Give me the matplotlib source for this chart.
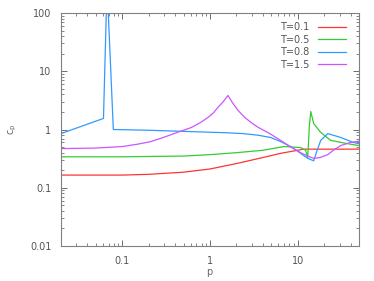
import matplotlib
matplotlib.use("Agg")
import matplotlib.pyplot as plt
from matplotlib.ticker import LogLocator, FixedLocator, FixedFormatter, NullFormatter

# T=0.1
p_01 = [0.02, 0.1, 0.2, 0.5, 1, 2, 4, 6.4, 10, 11.5, 13, 20, 50]
cp_01 = [0.165, 0.165, 0.17, 0.185, 0.21, 0.26, 0.33, 0.39, 0.44, 0.46, 0.46, 0.46, 0.46]

# T=0.5
p_05 = [0.02, 0.1, 0.5, 1, 2, 4, 7, 10.8, 12.3, 13.0, 13.6, 14.1, 15.2, 18.3, 23.8, 37.3, 50]
cp_05 = [0.34, 0.34, 0.35, 0.37, 0.40, 0.44, 0.51, 0.49, 0.44, 0.33, 1.2, 2.04, 1.27, 0.89, 0.65, 0.57, 0.53]

# T=0.8
p_08 = [0.02, 0.061, 0.0657, 0.0692, 0.079, 0.2, 0.61, 1.5, 2.4, 3.5, 4.9, 6.4, 8.5, 10.8, 13, 15.2, 16.5, 18.3, 22, 31, 43, 50]
cp_08 = [0.85, 1.55, 100, 100, 1.0, 0.97, 0.92, 0.88, 0.85, 0.8, 0.73, 0.62, 0.5, 0.39, 0.32, 0.29, 0.42, 0.65, 0.85, 0.73, 0.6, 0.57]

# T=1.5
p_15 = [0.02, 0.05, 0.1, 0.15, 0.211, 0.27, 0.34, 0.45, 0.61, 0.78, 0.95, 1.1, 1.23, 1.4, 1.6,
        1.8, 2.09, 2.5, 2.94, 3.5, 4.14, 5.0, 5.9, 6.4, 8.0, 10.8, 13, 15.2, 18, 22, 26, 31, 40, 50]
cp_15 = [0.47, 0.48, 0.51, 0.56, 0.62, 0.70, 0.79, 0.92, 1.08, 1.32, 1.61, 1.95, 2.39, 2.95, 3.84,
         2.9, 2.12, 1.6, 1.32, 1.1, 0.96, 0.82, 0.70, 0.65, 0.52, 0.40, 0.35, 0.32, 0.33, 0.37, 0.45, 0.53, 0.6, 0.63]

labels = ["T=0.1", "T=0.5", "T=0.8", "T=1.5"]
colors = ["#ff3333", "#33cc33", "#3399ff", "#cc55ff"]

xticks = [0.1, 1, 10]
xticklabels = ["0.1", "1", "10"]
yticks = [0.01, 0.1, 1, 10, 100]
yticklabels = ["0.01", "0.1", "1", "10", "100"]

fig = plt.figure(figsize=(3.74, 2.81), dpi=100)
ax = fig.add_axes([61/374, 1-246/281, (359-61)/374, (246-13)/281])

series = [(p_01, cp_01), (p_05, cp_05), (p_08, cp_08), (p_15, cp_15)]
for (px, py), lab, c in zip(series, labels, colors):
    ax.plot(px, py, color=c, lw=0.9, label=lab)

ax.set_xscale("log")
ax.set_yscale("log")
ax.set_xlim(0.02, 50)
ax.set_ylim(0.01, 100)

ax.xaxis.set_major_locator(FixedLocator(xticks))
ax.xaxis.set_major_formatter(FixedFormatter(xticklabels))
ax.xaxis.set_minor_locator(LogLocator(base=10, subs=range(2, 10), numticks=20))
ax.xaxis.set_minor_formatter(NullFormatter())
ax.yaxis.set_major_locator(FixedLocator(yticks))
ax.yaxis.set_major_formatter(FixedFormatter(yticklabels))
ax.yaxis.set_minor_locator(LogLocator(base=10, subs=range(2, 10), numticks=20))
ax.yaxis.set_minor_formatter(NullFormatter())

gray = "#666666"
for s in ax.spines.values():
    s.set_color("#808080")
    s.set_linewidth(0.8)
ax.tick_params(which="both", direction="in", top=True, right=True, colors="#555555",
               labelcolor="#555555", labelsize=7)
ax.tick_params(which="major", length=4, width=0.6)
ax.tick_params(which="minor", length=2, width=0.5)
ax.tick_params(axis="x", pad=7)
ax.tick_params(axis="y", pad=7)

fig.text(209/374, 1-272/281, "p", color=gray, fontsize=7, ha="center", va="center")
fig.text(13/374, 1-129/281, "c$_\\mathregular{p}$", color=gray, fontsize=7,
         ha="center", va="center", rotation=90)

leg = ax.legend(loc="upper right", frameon=False, fontsize=7, markerfirst=False,
                handlelength=2.8, handletextpad=0.9, labelspacing=0.25,
                borderaxespad=0.2, bbox_to_anchor=(0.975, 0.985))
for t in leg.get_texts():
    t.set_color("#555555")

fig.savefig("out.png", dpi=100)
